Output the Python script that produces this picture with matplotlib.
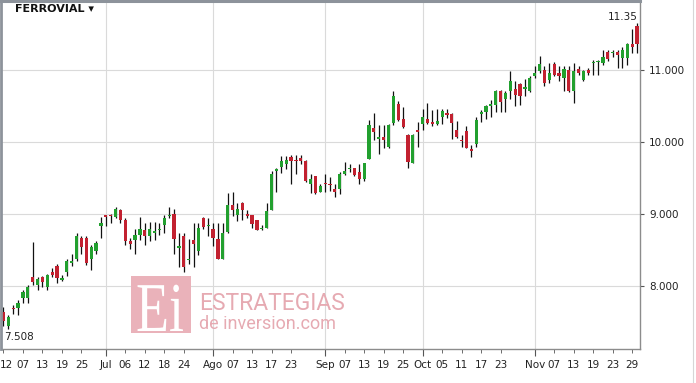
import matplotlib
matplotlib.use("Agg")
import matplotlib.pyplot as plt
from matplotlib.patches import Rectangle, PathPatch
from matplotlib.lines import Line2D
from matplotlib.textpath import TextPath
from matplotlib.font_manager import FontProperties
from matplotlib.transforms import Affine2D, ScaledTranslation

# === DATA ===
opens = [7.64, 7.44, 7.70, 7.69, 7.83, 7.83, 8.13, 8.02, 8.12, 7.99,
         8.20, 8.28, 8.08, 8.20, 8.32, 8.38, 8.66, 8.66, 8.38, 8.48,
         8.83, 8.98, 8.99, 8.96, 9.06, 8.92, 8.62, 8.64, 8.71, 8.77,
         8.69, 8.73, 8.77, 8.85, 8.97, 9.00, 8.53, 8.69, 8.36, 8.64,
         8.48, 8.94, 8.83, 8.79, 8.65, 8.38, 8.75, 9.13, 8.98, 9.15,
         9.00, 8.98, 8.91, 8.79, 8.81, 9.06, 9.59, 9.65, 9.69, 9.79,
         9.75, 9.77, 9.74, 9.41, 9.52, 9.31, 9.43, 9.42, 9.35, 9.35,
         9.56, 9.62, 9.63, 9.58, 9.48, 9.76, 10.19, 10.04, 10.06, 9.93,
         10.26, 10.53, 10.31, 10.10, 9.71, 10.16, 10.25, 10.31, 10.27, 10.25,
         10.35, 10.40, 10.39, 10.16, 10.03, 10.15, 9.90, 9.97, 10.38, 10.42,
         10.50, 10.51, 10.70, 10.60, 10.71, 10.73, 10.80, 10.73, 10.70, 10.91,
         10.98, 10.99, 10.86, 11.08, 10.95, 10.88, 11.00, 10.70, 11.01, 10.86,
         10.99, 11.09, 11.10, 11.09, 11.25, 11.23, 11.24, 11.16, 11.16, 11.36,
         11.60]
highs = [7.71, 7.60, 7.74, 7.81, 7.94, 8.02, 8.61, 8.12, 8.14, 8.17,
         8.25, 8.31, 8.15, 8.37, 8.45, 8.73, 8.69, 8.69, 8.57, 8.62,
         8.96, 8.99, 9.00, 9.09, 9.07, 8.94, 8.66, 8.79, 8.95, 8.87,
         8.89, 8.89, 8.87, 8.99, 9.09, 9.07, 8.74, 8.73, 8.65, 8.88,
         8.88, 8.96, 8.94, 8.88, 8.87, 8.87, 9.29, 9.31, 9.15, 9.17,
         9.05, 8.99, 8.92, 8.84, 9.15, 9.60, 9.64, 9.80, 9.80, 9.81,
         9.81, 9.81, 9.75, 9.56, 9.53, 9.41, 9.56, 9.51, 9.42, 9.58,
         9.72, 9.69, 9.64, 9.69, 9.70, 10.30, 10.40, 10.23, 10.23, 10.24,
         10.70, 10.56, 10.48, 10.11, 10.11, 10.28, 10.46, 10.54, 10.44, 10.46,
         10.46, 10.46, 10.40, 10.29, 10.10, 10.22, 9.96, 10.35, 10.44, 10.51,
         10.58, 10.72, 10.72, 10.71, 10.98, 10.84, 10.81, 10.87, 10.91, 11.05,
         11.19, 11.05, 11.09, 11.10, 11.05, 11.05, 11.05, 11.09, 11.05, 11.00,
         11.02, 11.14, 11.14, 11.27, 11.28, 11.28, 11.27, 11.32, 11.37, 11.56,
         11.65]
lows = [7.44, 7.41, 7.61, 7.60, 7.76, 7.76, 8.01, 7.94, 7.99, 7.94,
        8.12, 8.04, 8.07, 8.14, 8.28, 8.34, 8.45, 8.29, 8.22, 8.44,
        8.67, 8.83, 8.87, 8.94, 8.87, 8.57, 8.51, 8.45, 8.64, 8.57,
        8.63, 8.64, 8.71, 8.73, 8.94, 8.45, 8.27, 8.20, 8.31, 8.26,
        8.43, 8.79, 8.70, 8.56, 8.38, 8.38, 8.73, 8.97, 8.90, 8.92,
        8.94, 8.80, 8.77, 8.78, 8.81, 9.05, 9.31, 9.57, 9.62, 9.42,
        9.55, 9.69, 9.44, 9.29, 9.28, 9.30, 9.31, 9.32, 9.24, 9.27,
        9.54, 9.58, 9.52, 9.42, 9.45, 9.76, 10.02, 9.83, 9.92, 9.92,
        10.23, 10.29, 10.19, 9.63, 9.70, 9.93, 10.16, 10.24, 10.22, 10.23,
        10.25, 10.33, 10.04, 10.05, 9.93, 9.91, 9.79, 9.93, 10.28, 10.31,
        10.35, 10.42, 10.42, 10.42, 10.59, 10.50, 10.51, 10.63, 10.69, 10.88,
        10.95, 10.78, 10.81, 10.91, 10.84, 10.71, 10.69, 10.54, 10.93, 10.85,
        10.93, 10.92, 10.93, 11.07, 11.12, 11.18, 11.02, 11.02, 11.07, 11.23,
        11.23]
closes = [7.51, 7.57, 7.68, 7.76, 7.91, 7.99, 8.05, 8.10, 8.05, 8.15,
          8.15, 8.11, 8.11, 8.34, 8.34, 8.69, 8.54, 8.32, 8.54, 8.59,
          8.88, 8.96, 8.97, 9.07, 8.92, 8.62, 8.58, 8.71, 8.79, 8.69,
          8.79, 8.76, 8.79, 8.94, 8.99, 8.65, 8.55, 8.27, 8.38, 8.58,
          8.80, 8.82, 8.85, 8.66, 8.38, 8.73, 9.13, 9.06, 9.07, 9.06,
          8.97, 8.86, 8.78, 8.80, 9.04, 9.56, 9.62, 9.73, 9.75, 9.73,
          9.73, 9.74, 9.45, 9.49, 9.29, 9.38, 9.41, 9.40, 9.30, 9.55,
          9.60, 9.64, 9.54, 9.49, 9.70, 10.23, 10.13, 10.06, 10.03, 10.23,
          10.63, 10.30, 10.20, 9.72, 10.10, 10.13, 10.34, 10.26, 10.25, 10.29,
          10.43, 10.37, 10.26, 10.06, 10.01, 9.92, 9.87, 10.30, 10.41, 10.50,
          10.52, 10.71, 10.55, 10.68, 10.84, 10.65, 10.64, 10.76, 10.88, 10.95,
          11.08, 10.81, 10.95, 10.93, 10.91, 11.01, 10.70, 10.98, 10.95, 10.98,
          10.95, 11.11, 11.12, 11.18, 11.15, 11.25, 11.21, 11.28, 11.36, 11.31,
          11.35]

# x axis: month ticks (gridlines) and in-between day ticks, as bar indices
month_pos = [21, 43, 66, 86, 109]
month_labels = ["Jul", "Ago", "Sep", "Oct", "Nov"]
day_pos = [0, 4, 8, 12, 16, 25, 29, 33, 37, 47, 51, 55, 59,
           70, 74, 78, 82, 90, 94, 98, 102, 113, 117, 121, 125, 129]
day_labels = ["12", "07", "13", "19", "25", "06", "12", "18", "24",
              "07", "13", "17", "23", "07", "13", "19", "25",
              "05", "11", "17", "23", "07", "13", "19", "23", "29"]
price_ticks = [8.0, 9.0, 10.0, 11.0]
first_label = "7.508"

GREEN = "#22a02f"
RED = "#c22130"
W, H = 696, 383

fig = plt.figure(figsize=(W / 100, H / 100), dpi=100)
ax = fig.add_axes([2 / W, 34 / H, 638 / W, 346 / H])

idx = list(range(len(closes)))

# === CANDLES ===
ax.vlines(idx, lows, highs, color="#111111", lw=0.9, zorder=3)
for i in idx:
    o, c = opens[i], closes[i]
    col = GREEN if c >= o else RED
    h = max(abs(c - o), 0.02)
    ax.bar(i, h, bottom=min(o, c), width=0.66, color=col, lw=0, zorder=4)

ax.set_xlim(-0.3, 130.6)
ax.set_ylim(7.126, 11.925)

# === AXES STYLE ===
ax.yaxis.tick_right()
ax.set_yticks(price_ticks, labels=[f"{v:.3f}" for v in price_ticks])
ax.set_xticks(month_pos, labels=month_labels)
ax.set_xticks(day_pos, labels=day_labels, minor=True)
ax.tick_params(axis="x", which="major", length=5, pad=3.2, color="#555555",
               labelsize=7.5, labelcolor="#222222")
ax.tick_params(axis="x", which="minor", length=3, pad=5.2, color="#555555",
               labelsize=7.5, labelcolor="#222222")
ax.tick_params(axis="y", length=3, pad=3.5, color="#555555",
               labelsize=7.5, labelcolor="#222222")
ax.grid(True, which="major", color="#dadada", lw=0.8, zorder=0)
ax.set_axisbelow(True)
for side in ["left", "top"]:
    ax.spines[side].set_visible(False)
for side in ["right", "bottom"]:
    ax.spines[side].set_color("#8c8c8c")
    ax.spines[side].set_linewidth(1)

# first day label sits at the very edge, nudge it inside
lbl0 = ax.get_xticklabels(minor=True)[0]
lbl0.set_transform(lbl0.get_transform() + ScaledTranslation(2.5 / 100, 0, fig.dpi_scale_trans))

# frame lines
fig.add_artist(Line2D([0, 640 / W], [1 - 1 / H, 1 - 1 / H], transform=fig.transFigure,
                      color="#8d939b", lw=2.2))
fig.add_artist(Line2D([1 / W, 1 / W], [34 / H, 1], transform=fig.transFigure,
                      color="#8d939b", lw=2.0))
fig.add_artist(Line2D([693 / W, 693 / W], [0, 1], transform=fig.transFigure,
                      color="#d6d6d6", lw=0.8))

# === TEXTS ===
fig.text(15 / W, 1 - 8.5 / H, "FERROVIAL \u25be", fontsize=8, fontweight="bold",
         color="#111111", va="center", ha="left")
fig.text(638 / W, 1 - 17 / H, f"{closes[-1]:.2f}", fontsize=7.5, color="#222222",
         va="center", ha="right")
fig.text(4 / W, 1 - 337 / H, first_label, fontsize=7.5, color="#222222",
         va="center", ha="left")

# watermark
fig.add_artist(Rectangle((131 / W, 1 - 333 / H), 60 / W, 57 / H,
                         transform=fig.transFigure, color="#eab2ba", lw=0, zorder=1))
ei = TextPath((0, 0), "Ei", size=1, prop=FontProperties(family="Liberation Serif"))
fig.add_artist(PathPatch(ei, transform=Affine2D().scale(54, 70).translate(136, H - 331),
                         color="white", lw=0, zorder=2))
fig.text(199 / W, 1 - 310 / H, "ESTRATEGIAS", family="Roboto", fontsize=16.5,
         color="#e6aab2", ha="left", va="baseline")
fig.text(199 / W, 1 - 329 / H, "de inversion.com", family="Roboto", fontsize=13,
         color="#e6aab2", ha="left", va="baseline")

fig.savefig("out.png", dpi=100)
